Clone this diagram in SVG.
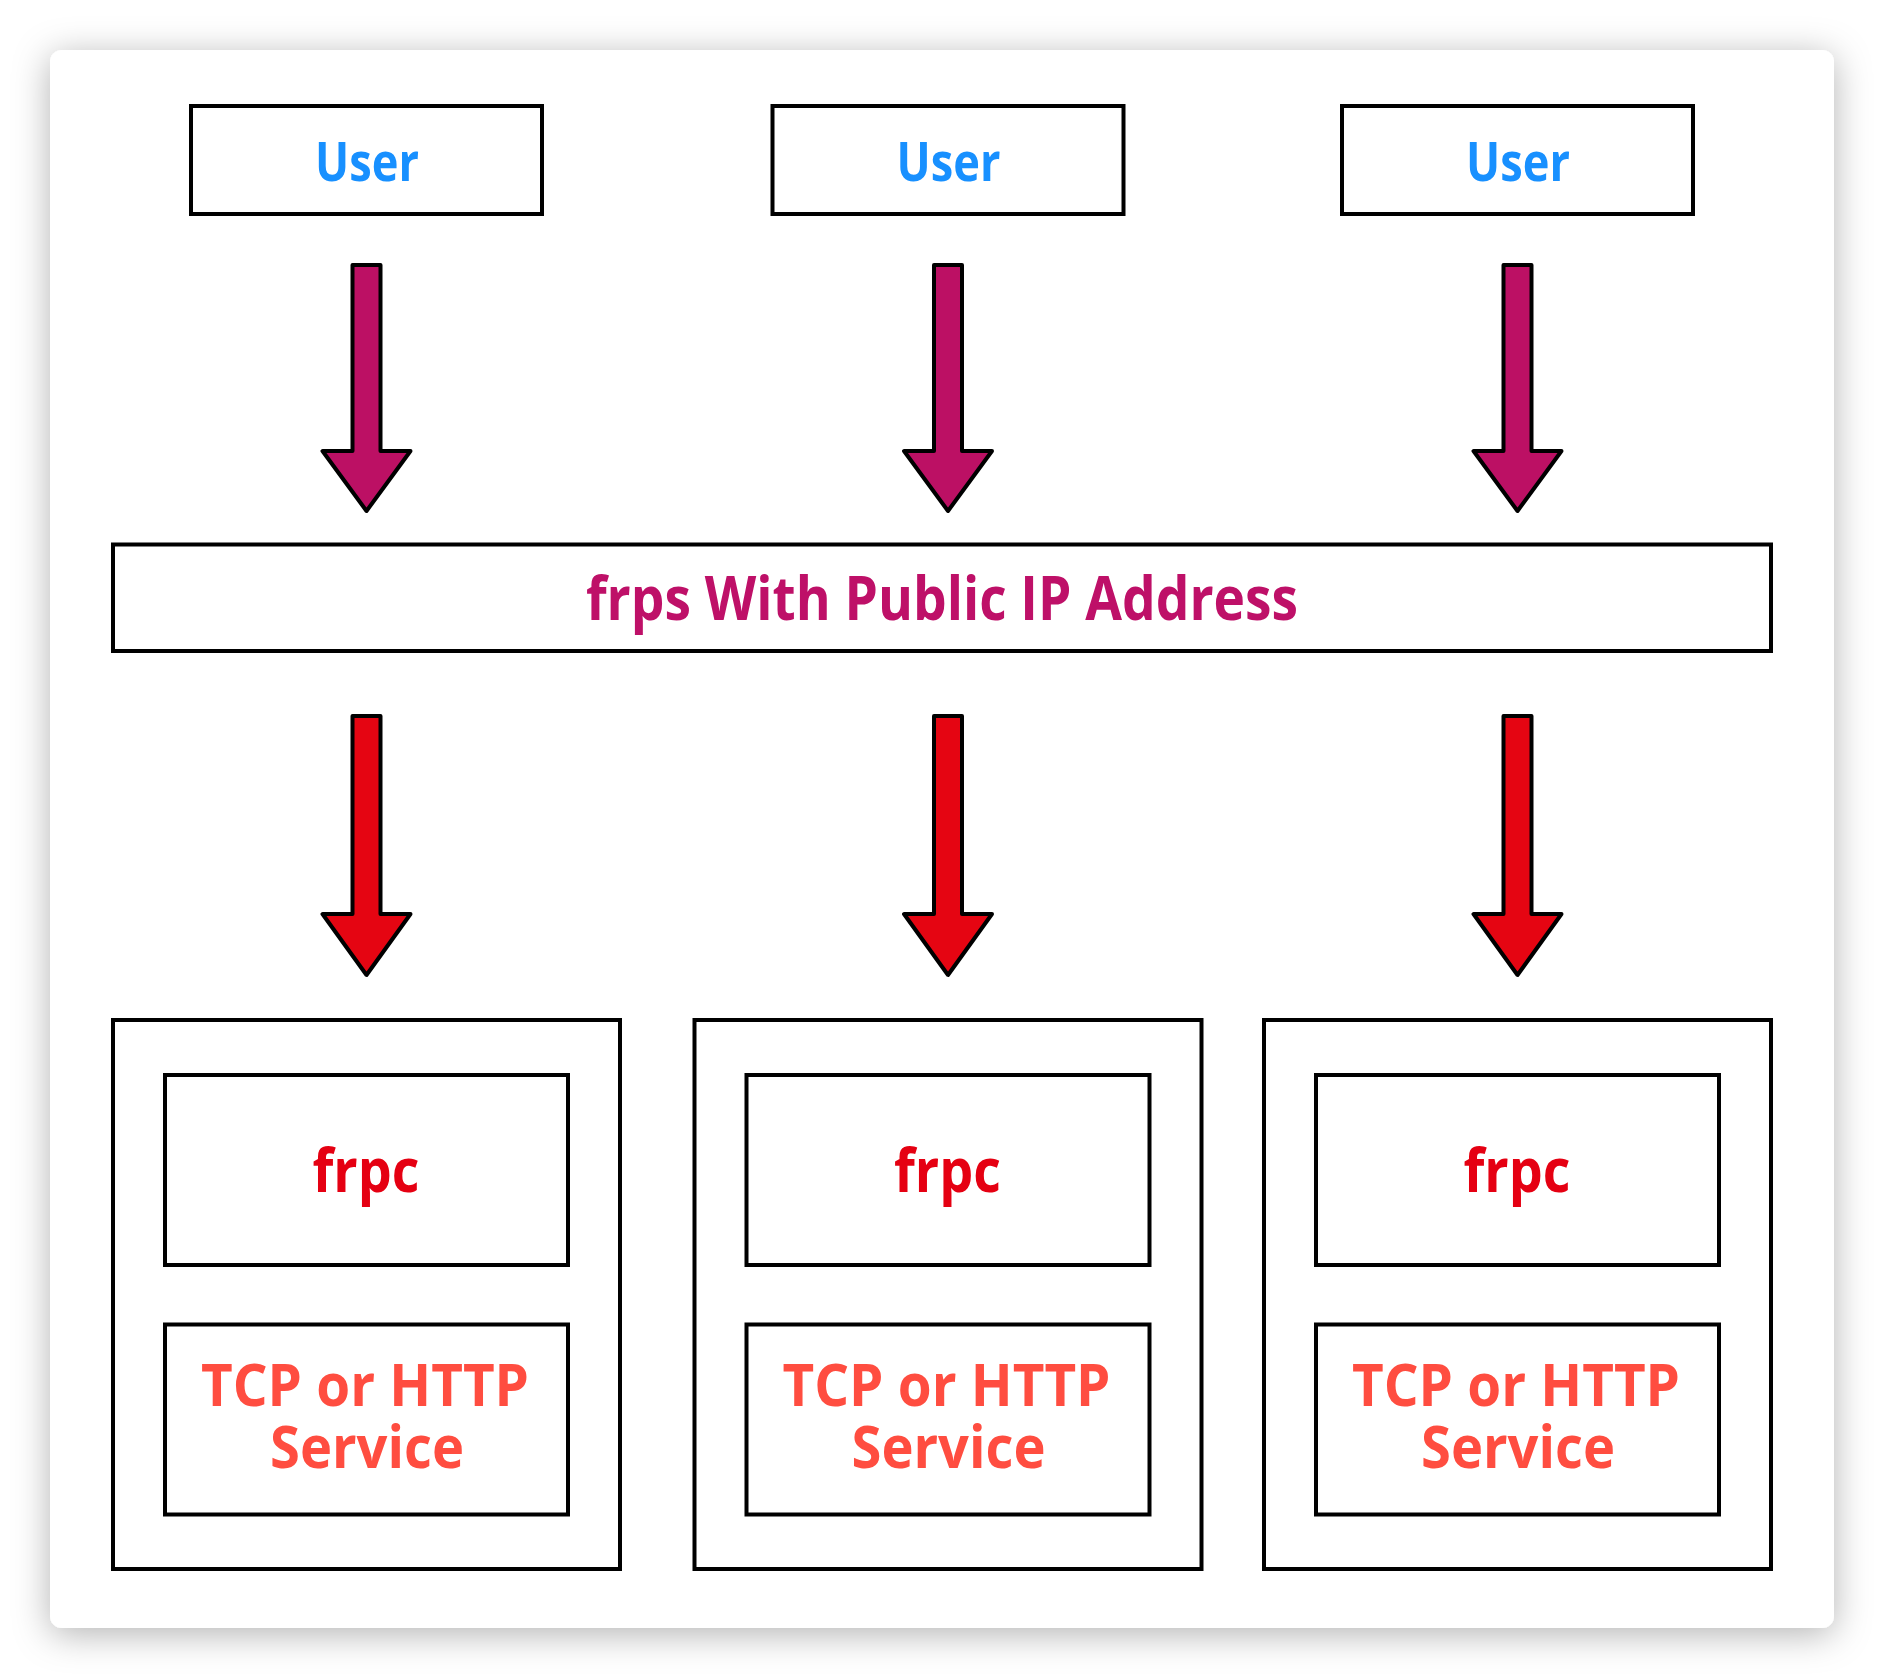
<svg xmlns="http://www.w3.org/2000/svg" width="1884" height="1678" viewBox="0 0 1884 1678">
  <defs>
    <filter id="shadow" x="-10%" y="-10%" width="120%" height="120%">
      <feDropShadow dx="0" dy="6" stdDeviation="18" flood-color="#000" flood-opacity="0.3"/>
    </filter>
  </defs>
  <style>
    .box { fill: #fff; stroke: #000; stroke-width: 4; }
    .arrow { stroke: #000; stroke-width: 4; stroke-linejoin: round; }
    .a1 { fill: #bc1064; }
    .a2 { fill: #e50512; }
    text { font-family: "Open Sans", "Noto Sans", "Liberation Sans", sans-serif; font-weight: 700; text-anchor: middle; }
    .user { fill: #1890ff; font-size: 53px; }
    .frps { fill: #be1068; font-size: 60px; }
    .frpc { fill: #e50012; font-size: 60px; }
    .svc { fill: #ff4d40; font-size: 59px; }
  </style>
  <rect x="0" y="0" width="1884" height="1678" fill="#fff"/>
  <rect id="card" x="50" y="50" width="1784" height="1578" rx="12" fill="#fff" filter="url(#shadow)"/>

  <g id="user1"><rect class="box" x="191" y="106" width="351" height="108"/><text class="user" x="367" y="181" textLength="104" lengthAdjust="spacingAndGlyphs">User</text></g>
  <g id="user2"><rect class="box" x="772.5" y="106" width="351" height="108"/><text class="user" x="948.5" y="181" textLength="104" lengthAdjust="spacingAndGlyphs">User</text></g>
  <g id="user3"><rect class="box" x="1342" y="106" width="351" height="108"/><text class="user" x="1518" y="181" textLength="104" lengthAdjust="spacingAndGlyphs">User</text></g>

  <g id="frps"><rect class="box" x="113" y="544.5" width="1658" height="106.5"/><text class="frps" x="942" y="620" textLength="712" lengthAdjust="spacingAndGlyphs">frps With Public IP Address</text></g>

  <g id="client1">
    <rect class="box" x="113" y="1020" width="507" height="549"/>
    <g id="frpc1"><rect class="box" x="165" y="1075" width="403" height="190"/><text class="frpc" x="366" y="1192" textLength="107" lengthAdjust="spacingAndGlyphs">frpc</text></g>
    <g id="svc1"><rect class="box" x="165" y="1324.5" width="403" height="190"/><text class="svc" x="365" y="1406" textLength="328" lengthAdjust="spacingAndGlyphs">TCP or HTTP</text><text class="svc" x="367" y="1468" textLength="194" lengthAdjust="spacingAndGlyphs">Service</text></g>
  </g>
  <g id="client2">
    <rect class="box" x="694.5" y="1020" width="507" height="549"/>
    <g id="frpc2"><rect class="box" x="746.5" y="1075" width="403" height="190"/><text class="frpc" x="947.5" y="1192" textLength="107" lengthAdjust="spacingAndGlyphs">frpc</text></g>
    <g id="svc2"><rect class="box" x="746.5" y="1324.5" width="403" height="190"/><text class="svc" x="946.5" y="1406" textLength="328" lengthAdjust="spacingAndGlyphs">TCP or HTTP</text><text class="svc" x="948.5" y="1468" textLength="194" lengthAdjust="spacingAndGlyphs">Service</text></g>
  </g>
  <g id="client3">
    <rect class="box" x="1264" y="1020" width="507" height="549"/>
    <g id="frpc3"><rect class="box" x="1316" y="1075" width="403" height="190"/><text class="frpc" x="1517" y="1192" textLength="107" lengthAdjust="spacingAndGlyphs">frpc</text></g>
    <g id="svc3"><rect class="box" x="1316" y="1324.5" width="403" height="190"/><text class="svc" x="1516" y="1406" textLength="328" lengthAdjust="spacingAndGlyphs">TCP or HTTP</text><text class="svc" x="1518" y="1468" textLength="194" lengthAdjust="spacingAndGlyphs">Service</text></g>
  </g>

  <g id="connectors">
    <path class="arrow a1" d="M352.5,265 H380.5 V451 H410.5 L366.5,511 L322.5,451 H352.5 Z"/>
    <path class="arrow a1" d="M934,265 H962 V451 H992 L948,511 L904,451 H934 Z"/>
    <path class="arrow a1" d="M1503.5,265 H1531.5 V451 H1561.5 L1517.5,511 L1473.5,451 H1503.5 Z"/>
    <path class="arrow a2" d="M352.5,716 H380.5 V914 H410.5 L366.5,975 L322.5,914 H352.5 Z"/>
    <path class="arrow a2" d="M934,716 H962 V914 H992 L948,975 L904,914 H934 Z"/>
    <path class="arrow a2" d="M1503.5,716 H1531.5 V914 H1561.5 L1517.5,975 L1473.5,914 H1503.5 Z"/>
  </g>
</svg>
